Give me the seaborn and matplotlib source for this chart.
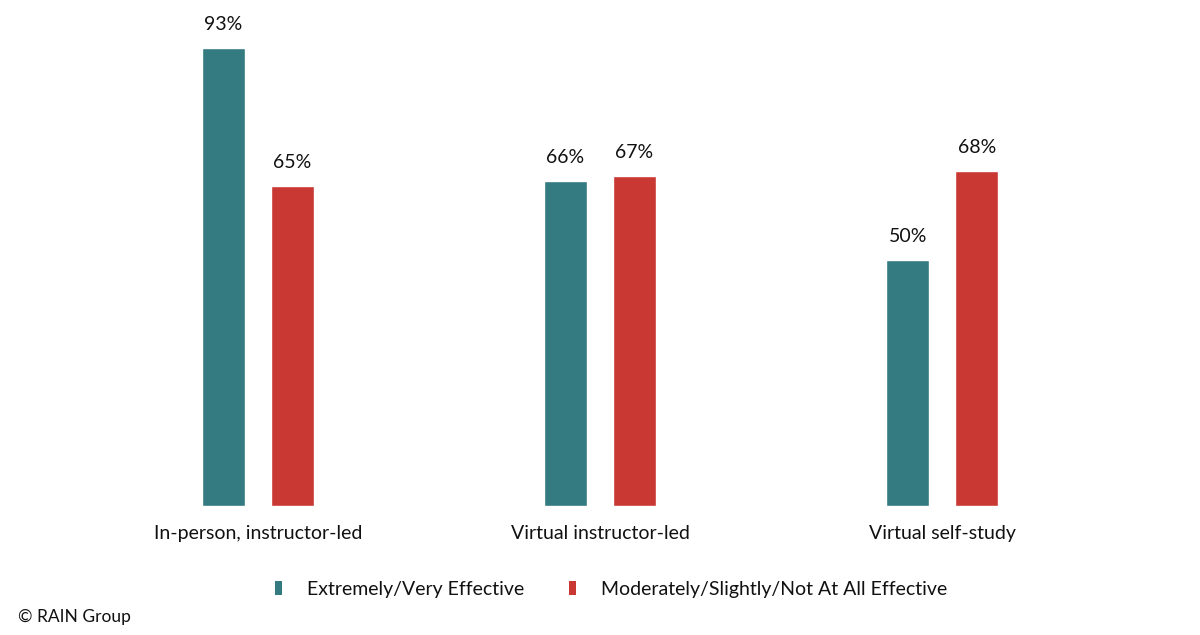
import pandas as pd
import matplotlib
matplotlib.use("Agg")
import matplotlib.pyplot as plt
import seaborn as sns
from matplotlib.patches import Patch

# Chart values
categories = ["In-person, instructor-led", "Virtual instructor-led", "Virtual self-study"]
series_names = ["Extremely/Very Effective", "Moderately/Slightly/Not At All Effective"]
effective = [93, 66, 50]
not_effective = [65, 67, 68]

colors = ["#337b80", "#c93833"]

df = pd.DataFrame({
    "Method": categories * 2,
    "Rating": [series_names[0]] * 3 + [series_names[1]] * 3,
    "Percent": effective + not_effective,
})

sns.set_theme(style="white")
plt.rcParams["font.family"] = ["Lato", "DejaVu Sans"]

fig = plt.figure(figsize=(12, 6.35), dpi=100)
ax = fig.add_axes([0.0005, 0.2031, 0.999, 0.7748])

sns.barplot(data=df, x="Method", y="Percent", hue="Rating", palette=colors,
            width=0.403, gap=0.37, ax=ax, legend=False, saturation=1)

for cont in ax.containers:
    ax.bar_label(cont, labels=[f"{v:.0f}%" for v in cont.datavalues],
                 padding=11, fontsize=14, color="#111111")

ax.set_xlim(-0.7518, 2.7518)
ax.set_ylim(0, 100)
ax.set_xlabel("")
ax.set_ylabel("")
ax.set_yticks([])
ax.tick_params(axis="x", length=0, pad=14, labelsize=14, labelcolor="#111111")
sns.despine(ax=ax, left=True, bottom=True)

handles = [Patch(facecolor=c, edgecolor="none") for c in colors]
fig.legend(handles, series_names, loc="center", bbox_to_anchor=(0.509, 0.0724),
           ncol=2, frameon=False, fontsize=14, handlelength=0.4, handleheight=0.7,
           handletextpad=1.25, columnspacing=2.3, labelcolor="#111111")

fig.text(0.015, 0.0283, "\u00a9 RAIN Group", fontsize=12.5, color="#111111", va="center")

fig.savefig("out.png", dpi=100)
